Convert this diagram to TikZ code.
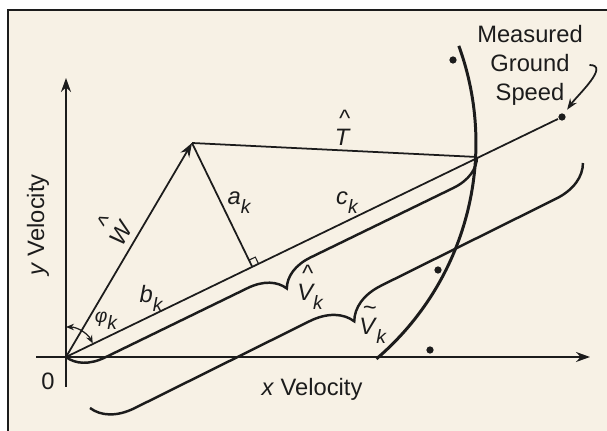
\documentclass[tikz,border=0pt]{standalone}
\usepackage{fontspec}
\setmainfont{Liberation Sans}
\usetikzlibrary{arrows.meta,calc,decorations.pathreplacing}

\definecolor{papier}{RGB}{247,241,229}
\definecolor{tinte}{RGB}{28,28,28}

% Akzent ueber einem Buchstaben
\newcommand{\oben}[2]{\leavevmode\vbox{\offinterlineskip\halign{\hfil##\hfil\cr\kern0.2em#1\cr\noalign{\kern0.12em}#2\cr}}}
% Index k
\newcommand{\idx}[1]{\raisebox{-0.38em}{\fontsize{11}{12}\selectfont #1}}

\begin{document}
\begin{tikzpicture}[x=0.02cm,y=0.02cm,color=tinte,line width=1pt,
        font=\fontsize{13.5}{16.5}\selectfont,
        pfeil/.style={-{Stealth[length=2.8mm,width=2mm]}},
        punkt/.style={circle,fill=tinte,inner sep=0pt,minimum size=1.45mm},
        lbl/.style={inner sep=1pt,execute at begin node=\itshape},
        klammer/.style={decorate,decoration={brace,mirror,amplitude=#1},line width=1.4pt}]
        \useasboundingbox (0,0) rectangle (607,431);

        % Hintergrund und Rahmen
        \fill[papier] (8,0) rectangle (607,421);
        \draw[line width=1.2pt] (8,0) -- (8,421) -- (607,421);

        % Achsen
        \coordinate (O) at (66,74);
        \coordinate (xl) at (36,74);
        \coordinate (xr) at (590,74);
        \coordinate (yu) at (66,44);
        \coordinate (yo) at (66,353);
        \draw[pfeil] (xl) -- (xr);
        \draw[pfeil] (yu) -- (yo);
        \node (null) at (48,50) {0};
        \node (xlab) at (312,42) {\textit{x} Velocity};
        \node[rotate=90] (ylab) at (38,206) {\textit{y} Velocity};

        % Wind, Luftgeschwindigkeit
        \coordinate (A) at (192,288);
        \coordinate (P) at (477,274);
        \node[punkt] (gs) at (562,314) {};
        \draw[pfeil] (O) -- (A);
        \draw (A) -- (P);
        \draw (O) -- (gs);

        % Lot mit rechtem Winkel
        \coordinate (F) at ($(O)!(A)!(P)$);
        \draw (A) -- (F);
        \coordinate (F1) at ($(F)!0.14cm!(P)$);
        \coordinate (F2) at ($(F)!0.14cm!(A)$);
        \draw[line width=0.6pt] (F1) -- ($(F1)+(F2)-(F)$) -- (F2);

        % Kreis der Grundgeschwindigkeit
        \draw[line width=1.7pt] ([shift={(20:5.68cm)}]A) arc[start angle=20,end angle=-49.5,radius=5.68cm];
        \node[punkt] (d1) at (453,371) {};
        \node[punkt] (d2) at (438,161) {};
        \node[punkt] (d3) at (430,81) {};

        % Winkel
        \draw[{Stealth[length=1.6mm,width=1.3mm]}-{Stealth[length=1.6mm,width=1.3mm]},line width=0.7pt]
            ([shift={(90:0.6cm)}]O) arc[start angle=90,end angle=27,radius=0.6cm];

        % Klammern
        \coordinate (B1) at (90,23);
        \coordinate (B2) at (583,268);
        \draw[klammer=0.7cm] (O) -- (P);
        \draw[klammer=0.8cm] (B1) -- (B2);

        % Beschriftung
        \node[lbl] (lT) at (342,303) {\oben{\^{}}{T}};
        \node[lbl,rotate=60] (lW) at (113,202) {\oben{\^{}}{W}};
        \node[lbl] (la) at (239,228) {a\idx{k}};
        \node[lbl] (lb) at (151,133) {b\idx{k}};
        \node[lbl] (lc) at (347,228) {c\idx{k}};
        \node[lbl,font=\fontsize{11}{12}\selectfont] (lphi) at (106,110) {φ\idx{k}};
        \node[lbl] (lV) at (310,144) {\oben{\^{}}{V}\idx{k}};
        \node[lbl] (lVt) at (372,106) {\oben{\~{}}{V}\idx{k}};

        % Gemessene Grundgeschwindigkeit
        \node[align=center] (mgs) at (530,366) {Measured\\Ground\\Speed};
        \draw[-{Stealth[length=2.2mm,width=1.6mm]},shorten >=2.5pt] (mgs.east) to[out=0,in=55] (gs);

    \end{tikzpicture}
\end{document}
